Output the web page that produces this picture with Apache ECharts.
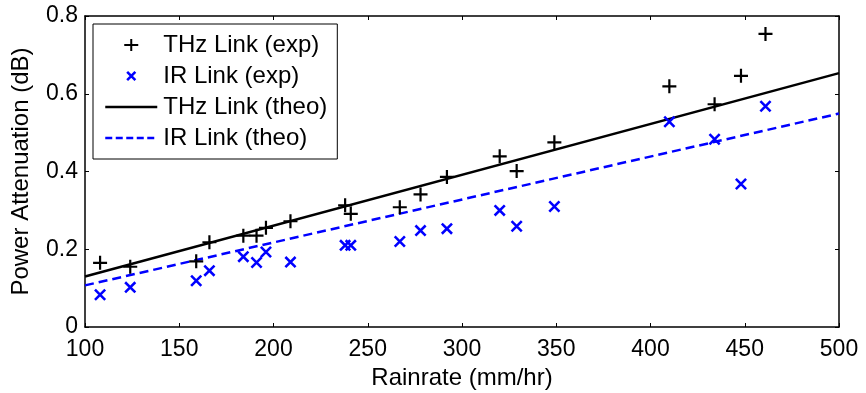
<!DOCTYPE html>
<html>
<head>
<meta charset="utf-8">
<script src="https://cdn.jsdelivr.net/npm/echarts@6/dist/echarts.min.js"></script>
<style>html,body{margin:0;padding:0;background:#fff}#c{width:866px;height:393px}</style>
</head>
<body>
<div id="c"></div>
<script>
// ---- data ----
const rainExp = [108, 124, 159, 166, 184, 191, 196, 209, 238, 241, 267, 278, 292, 320, 329, 349, 410, 434, 448, 461];
const thzExp  = [0.165, 0.155, 0.169, 0.218, 0.235, 0.235, 0.255, 0.272, 0.313, 0.291, 0.308, 0.341, 0.386, 0.439, 0.401, 0.475, 0.619, 0.573, 0.646, 0.754];
const irExp   = [0.083, 0.102, 0.119, 0.145, 0.181, 0.166, 0.193, 0.167, 0.210, 0.210, 0.220, 0.248, 0.253, 0.300, 0.259, 0.310, 0.528, 0.483, 0.368, 0.568];
const rainTheo = [100, 500];
const thzTheo  = [0.130, 0.653];
const irTheo   = [0.107, 0.549];
const seriesNames = ['THz Link (exp)', 'IR Link (exp)', 'THz Link (theo)', 'IR Link (theo)'];
const xTicks = {min: 100, max: 500, interval: 50};
const yTicks = {min: 0, max: 0.8, interval: 0.2};
const xTitle = 'Rainrate (mm/hr)';
const yTitle = 'Power Attenuation (dB)';

const zip = (a, b) => a.map((v, i) => [v, b[i]]);
const FONT = '"Liberation Sans", Arial, sans-serif';

const plusPath = 'path://M0,5.9 H14 V8.1 H0 Z M5.9,0 H8.1 V14 H5.9 Z';
const crossPath = 'path://M0,1.8 L1.8,0 L12,10.2 L10.2,12 Z M10.2,0 L12,1.8 L1.8,12 L0,10.2 Z';
const pad = 'M0,0 L0.01,0 L0,0.01 Z M52,14 L51.99,14 L52,13.99 Z ';
const plusLegend = 'path://' + pad + 'M19,6 H33 V8 H19 Z M25,1 H27 V13 H25 Z';
const crossLegend = 'path://' + pad + 'M21,3.8 L22.8,2 L31,10.2 L29.2,12 Z M29.2,2 L31,3.8 L22.8,12 L21,10.2 Z';

const axisCommon = {
  axisLine: {show: true, onZero: false, lineStyle: {color: '#000', width: 1.5}},
  axisTick: {show: true, inside: true, length: 4, lineStyle: {color: '#000', width: 1}},
  splitLine: {show: false}
};
const tickStyle = {color: '#000', fontSize: 23, fontFamily: FONT};
const titleStyle = {color: '#000', fontSize: 24, fontFamily: FONT};

const chart = echarts.init(document.getElementById('c'), null, {renderer: 'canvas'});
chart.setOption({
  animation: false,
  backgroundColor: '#fff',
  grid: {left: 85, right: 27, top: 16, bottom: 66, containLabel: false, outerBoundsMode: 'none'},
  xAxis: [
    Object.assign({type: 'value', position: 'bottom', min: xTicks.min, max: xTicks.max, interval: xTicks.interval,
      axisLabel: Object.assign({margin: 11}, tickStyle),
      name: xTitle, nameLocation: 'middle', nameGap: 37,
      nameTextStyle: titleStyle}, axisCommon),
    Object.assign({type: 'value', position: 'top', min: xTicks.min, max: xTicks.max, interval: xTicks.interval,
      axisLabel: {show: false}}, axisCommon)
  ],
  yAxis: [
    Object.assign({type: 'value', position: 'left', min: yTicks.min, max: yTicks.max, interval: yTicks.interval,
      axisLabel: Object.assign({margin: 7}, tickStyle),
      name: yTitle, nameLocation: 'middle', nameGap: 52, nameRotate: 90,
      nameTextStyle: titleStyle}, axisCommon),
    Object.assign({type: 'value', position: 'right', min: yTicks.min, max: yTicks.max, interval: yTicks.interval,
      axisLabel: {show: false}}, axisCommon)
  ],
  legend: {
    left: 93, top: 24, orient: 'vertical',
    itemWidth: 52, itemHeight: 14, itemGap: 7,
    padding: [9, 10, 9, 11],
    borderColor: '#000', borderWidth: 1, backgroundColor: '#fff',
    textStyle: {color: '#000', fontSize: 24, fontFamily: FONT, lineHeight: 24, padding: [0, 0, 0, 1]},
    data: [
      {name: seriesNames[0], icon: plusLegend},
      {name: seriesNames[1], icon: crossLegend},
      {name: seriesNames[2], itemStyle: {opacity: 0}, lineStyle: {width: 2.5, type: 'solid'}},
      {name: seriesNames[3], itemStyle: {opacity: 0}, lineStyle: {width: 2.5, type: [7, 3.5]}}
    ]
  },
  series: [
    {name: seriesNames[0], type: 'scatter', data: zip(rainExp, thzExp),
      symbol: plusPath, symbolSize: 14, itemStyle: {color: '#000', opacity: 1}, z: 3},
    {name: seriesNames[1], type: 'scatter', data: zip(rainExp, irExp),
      symbol: crossPath, symbolSize: 12, itemStyle: {color: '#0000ff', opacity: 1}, z: 3},
    {name: seriesNames[2], type: 'line', data: zip(rainTheo, thzTheo), symbol: 'none',
      itemStyle: {color: '#000'}, lineStyle: {color: '#000', width: 2.5, type: 'solid'}, z: 2},
    {name: seriesNames[3], type: 'line', data: zip(rainTheo, irTheo), symbol: 'none',
      itemStyle: {color: '#0000ff'}, lineStyle: {color: '#0000ff', width: 2.5, type: [9, 5]}, z: 2}
  ]
});
</script>
</body>
</html>
